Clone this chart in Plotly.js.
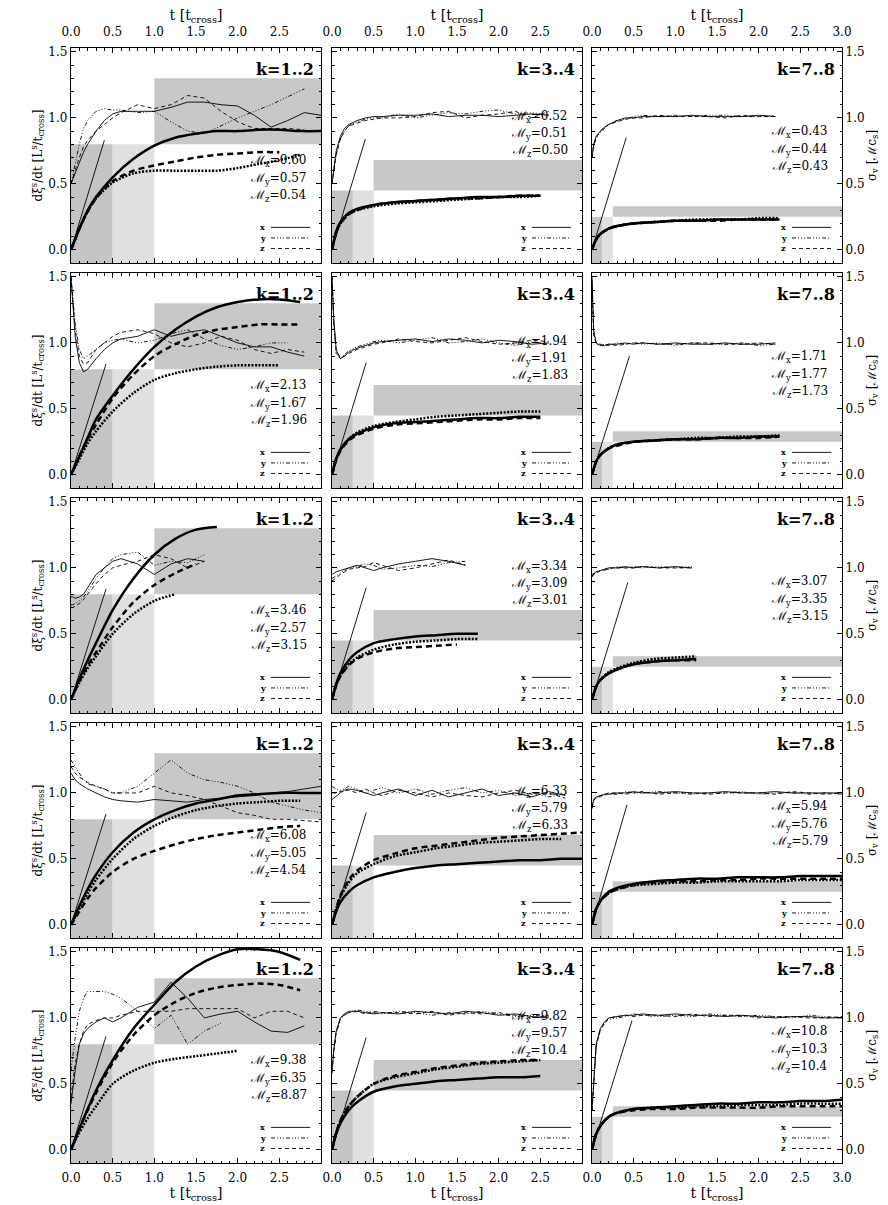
<!DOCTYPE html>
<html><head><meta charset="utf-8">
<script src="https://cdn.plot.ly/plotly-3.0.1.min.js"></script>
<style>body{margin:0;background:#fff}#g{width:888px;height:1205px}</style>
</head><body><div id="g"></div>
<script>
// time grids
const T1 = [0,0.02,0.05,0.1,0.15,0.2,0.3,0.4,0.5,0.6,0.8,1.0,1.2,1.4,1.6,1.8,2.0,2.2,2.4,2.6,2.8,3.0];
const T2 = [0,0.05,0.1,0.2,0.3,0.5,0.75,1.0,1.25,1.5,1.75,2.0,2.25,2.5,2.75,3.0];
const N = null;
// thin = sigma_v (x,y,z), thick = dxi/dt (x,y,z)
const vx11=[0.50,0.53,0.58,0.66,0.74,0.80,0.90,0.98,1.03,1.05,1.05,1.05,1.08,1.12,1.12,1.10,1.09,1.02,0.93,0.98,1.04,1.02];
const vy11=[0.50,0.56,0.66,0.80,0.92,0.98,1.05,1.07,1.06,1.06,1.04,1.05,0.97,0.90,0.88,0.94,1.00,1.05,1.10,1.16,1.22,N];
const vz11=[0.50,0.54,0.60,0.70,0.78,0.83,0.90,0.95,1.00,1.04,1.10,1.07,1.10,1.17,1.15,1.05,0.97,0.92,0.92,0.92,0.91,N];
const ex11=[0,0.08,0.16,0.30,0.40,0.55,0.69,0.79,0.85,0.88,0.90,0.90,0.91,0.91,0.90,0.90];
const ey11=[0,0.08,0.16,0.29,0.39,0.51,0.58,0.60,0.60,0.60,0.60,0.62,0.65,0.68,0.72,N];
const ez11=[0,0.08,0.16,0.29,0.39,0.52,0.60,0.64,0.67,0.70,0.72,0.73,0.74,0.74,N,N];
const vx12=[0.50,0.62,0.75,0.86,0.92,0.95,0.98,1.00,1.01,1.01,1.02,1.02,1.03,1.01,1.02,1.02,1.01,1.02,1.03,1.02,N,N];
const vy12=[0.50,0.60,0.72,0.84,0.90,0.94,0.97,0.99,1.00,1.00,1.03,1.00,1.02,1.04,1.03,1.05,1.06,1.03,1.04,1.02,N,N];
const vz12=[0.50,0.60,0.72,0.84,0.90,0.94,0.96,0.98,0.99,1.00,1.00,1.01,1.04,1.05,1.00,1.02,1.03,1.05,1.00,1.05,N,N];
const ex12=[0,0.14,0.21,0.28,0.31,0.34,0.36,0.37,0.38,0.39,0.40,0.40,0.41,0.41,N,N];
const ey12=[0,0.13,0.20,0.27,0.30,0.33,0.35,0.36,0.37,0.38,0.39,0.40,0.40,0.41,N,N];
const ez12=[0,0.13,0.20,0.27,0.30,0.34,0.36,0.37,0.38,0.39,0.39,0.40,0.41,0.41,N,N];
const vx13=[0.70,0.80,0.86,0.90,0.93,0.95,0.98,1.00,1.00,1.01,1.01,1.01,1.02,1.01,1.01,1.01,1.02,1.01,N,N,N,N];
const vy13=[0.70,0.79,0.85,0.89,0.92,0.95,0.98,0.99,1.01,1.02,1.01,1.02,1.01,1.02,1.02,1.01,1.01,1.02,N,N,N,N];
const vz13=[0.70,0.79,0.85,0.90,0.93,0.95,0.97,0.99,1.00,1.00,1.02,1.01,1.01,1.01,1.00,1.02,1.01,1.01,N,N,N,N];
const ex13=[0,0.08,0.12,0.16,0.18,0.20,0.21,0.22,0.22,0.23,0.23,0.23,0.23,N,N,N];
const ey13=[0,0.08,0.12,0.16,0.18,0.20,0.21,0.22,0.23,0.23,0.23,0.24,0.24,N,N,N];
const ez13=[0,0.08,0.12,0.16,0.18,0.20,0.21,0.22,0.22,0.22,0.23,0.23,0.23,N,N,N];
const vx21=[1.50,1.30,1.05,0.85,0.78,0.80,0.88,0.95,1.00,1.03,1.05,1.10,1.05,1.08,1.10,1.05,1.00,0.97,0.97,0.93,0.90,N];
const vy21=[1.50,1.35,1.15,0.95,0.88,0.90,0.95,1.00,1.02,1.03,1.00,1.02,1.07,1.10,1.03,0.98,0.95,0.97,1.00,1.00,N,N];
const vz21=[1.50,1.32,1.10,0.90,0.84,0.85,0.95,1.00,1.05,1.08,1.10,1.07,1.00,0.97,1.00,1.05,1.02,0.95,0.92,0.95,0.93,N];
const ex21=[0,0.07,0.14,0.28,0.42,0.60,0.80,0.97,1.10,1.20,1.27,1.31,1.33,1.33,1.31,N];
const ey21=[0,0.06,0.12,0.24,0.33,0.48,0.62,0.72,0.77,0.80,0.82,0.83,0.83,0.83,N,N];
const ez21=[0,0.07,0.14,0.27,0.38,0.58,0.76,0.90,0.99,1.06,1.10,1.12,1.14,1.14,1.14,N];
const vx22=[1.50,1.20,0.95,0.88,0.90,0.93,0.96,0.98,1.00,1.01,1.02,1.03,1.01,1.03,1.02,1.00,1.02,1.01,0.99,1.00,N,N];
const vy22=[1.50,1.15,0.92,0.88,0.91,0.94,0.97,0.99,1.01,1.02,1.00,1.02,1.04,1.00,1.01,1.03,1.00,0.98,1.01,0.99,N,N];
const vz22=[1.50,1.18,0.94,0.89,0.90,0.92,0.95,0.97,0.99,1.00,1.03,1.01,1.00,1.02,1.04,1.01,0.99,1.00,1.02,1.01,N,N];
const ex22=[0,0.12,0.19,0.27,0.31,0.36,0.39,0.40,0.41,0.42,0.43,0.43,0.44,0.44,N,N];
const ey22=[0,0.12,0.19,0.27,0.32,0.37,0.40,0.42,0.44,0.45,0.46,0.47,0.48,0.48,N,N];
const ez22=[0,0.11,0.18,0.26,0.30,0.35,0.38,0.39,0.40,0.41,0.42,0.42,0.43,0.43,N,N];
const vx23=[1.50,1.10,1.00,0.98,0.98,0.99,0.99,1.00,0.99,1.00,0.99,1.00,0.99,0.99,1.00,0.99,0.99,1.00,N,N,N,N];
const vy23=[1.48,1.08,0.99,0.98,0.99,0.98,1.00,0.99,1.00,0.99,1.00,0.98,1.00,0.99,0.99,1.00,0.98,0.99,N,N,N,N];
const vz23=[1.45,1.06,1.00,0.99,0.98,0.99,0.98,0.99,1.00,1.00,0.99,0.99,1.00,1.00,0.99,0.99,1.00,0.99,N,N,N,N];
const ex23=[0,0.10,0.15,0.20,0.23,0.25,0.26,0.27,0.27,0.28,0.28,0.29,0.29,N,N,N];
const ey23=[0,0.10,0.15,0.20,0.23,0.25,0.26,0.27,0.28,0.28,0.29,0.29,0.30,N,N,N];
const ez23=[0,0.10,0.15,0.20,0.22,0.25,0.26,0.27,0.27,0.28,0.28,0.28,0.29,N,N,N];
const vx31=[0.78,0.78,0.77,0.78,0.80,0.85,0.95,1.00,1.05,1.07,1.03,0.95,1.03,1.07,1.05,N,N,N,N,N,N,N];
const vy31=[0.72,0.72,0.73,0.75,0.78,0.82,0.92,1.00,1.07,1.10,1.12,1.02,1.05,1.04,1.10,N,N,N,N,N,N,N];
const vz31=[0.70,0.70,0.71,0.73,0.76,0.80,0.88,0.95,1.00,1.02,1.05,1.10,1.07,1.00,1.05,N,N,N,N,N,N,N];
const ex31=[0,0.08,0.16,0.30,0.43,0.68,0.92,1.10,1.22,1.29,1.31,N,N,N,N,N];
const ey31=[0,0.07,0.13,0.24,0.33,0.50,0.65,0.75,0.80,N,N,N,N,N,N,N];
const ez31=[0,0.07,0.14,0.26,0.36,0.55,0.74,0.87,0.96,1.03,N,N,N,N,N,N];
const vx32=[0.95,0.96,0.97,0.98,0.99,1.00,1.02,1.00,0.98,1.00,1.03,1.05,1.07,1.05,1.02,N,N,N,N,N,N,N];
const vy32=[0.92,0.93,0.94,0.96,0.98,1.00,1.01,1.03,1.02,0.99,1.00,1.02,1.01,1.04,1.05,N,N,N,N,N,N,N];
const vz32=[0.90,0.91,0.93,0.95,0.97,0.99,1.00,1.01,1.04,1.02,0.98,1.00,1.03,1.06,1.02,N,N,N,N,N,N,N];
const ex32=[0,0.12,0.20,0.30,0.36,0.43,0.46,0.48,0.49,0.50,0.50,N,N,N,N,N];
const ey32=[0,0.11,0.18,0.27,0.32,0.38,0.42,0.44,0.45,0.46,0.46,N,N,N,N,N];
const ez32=[0,0.11,0.18,0.26,0.31,0.36,0.39,0.40,0.41,0.42,N,N,N,N,N,N];
const vx33=[0.95,0.96,0.97,0.98,0.99,1.00,1.00,1.01,1.00,1.01,1.00,1.01,1.00,N,N,N,N,N,N,N,N,N];
const vy33=[0.94,0.95,0.97,0.98,0.99,0.99,1.01,1.00,1.01,1.00,1.01,1.00,1.01,N,N,N,N,N,N,N,N,N];
const vz33=[0.93,0.95,0.96,0.98,0.98,1.00,1.00,1.00,1.00,1.01,1.00,1.00,1.00,N,N,N,N,N,N,N,N,N];
const ex33=[0,0.10,0.15,0.20,0.23,0.27,0.29,0.30,0.31,N,N,N,N,N,N,N];
const ey33=[0,0.10,0.15,0.21,0.24,0.28,0.31,0.32,0.33,N,N,N,N,N,N,N];
const ez33=[0,0.10,0.15,0.20,0.23,0.27,0.29,0.30,0.30,N,N,N,N,N,N,N];
const vx41=[1.15,1.13,1.10,1.07,1.05,1.03,1.00,0.97,0.95,0.94,0.93,0.95,0.94,0.93,0.95,0.96,0.97,0.98,1.00,1.01,1.03,1.05];
const vy41=[1.25,1.23,1.20,1.15,1.10,1.07,1.05,1.03,1.00,1.00,1.05,1.15,1.25,1.15,1.10,1.08,1.05,1.00,0.93,0.90,0.87,0.85];
const vz41=[1.20,1.18,1.15,1.12,1.10,1.08,1.05,1.03,1.00,1.00,1.00,1.05,1.00,0.98,0.95,0.90,0.85,0.83,0.80,0.80,0.79,0.78];
const ex41=[0,0.07,0.14,0.27,0.38,0.55,0.70,0.80,0.87,0.92,0.95,0.98,0.99,1.00,1.00,1.00];
const ey41=[0,0.06,0.12,0.24,0.34,0.50,0.65,0.75,0.82,0.87,0.90,0.92,0.93,0.94,0.94,N];
const ez41=[0,0.05,0.10,0.20,0.28,0.40,0.50,0.56,0.61,0.65,0.68,0.70,0.72,0.74,0.75,N];
const vx42=[0.95,0.96,0.98,1.00,1.02,1.03,1.02,1.00,0.98,1.00,1.03,0.98,1.02,0.97,1.00,1.03,0.98,1.00,0.97,1.01,0.98,N];
const vy42=[1.05,1.04,1.03,1.02,1.03,1.05,1.03,1.00,1.02,1.04,1.00,1.03,0.99,1.02,1.04,1.00,1.02,0.98,1.00,0.97,0.99,N];
const vz42=[1.00,1.00,1.00,1.01,1.02,1.02,1.00,1.03,1.00,0.98,1.02,1.00,0.97,1.00,0.98,0.97,1.00,1.02,0.99,1.00,0.96,N];
const ex42=[0,0.10,0.17,0.25,0.30,0.36,0.40,0.43,0.45,0.46,0.47,0.48,0.49,0.49,0.50,0.50];
const ey42=[0,0.12,0.21,0.32,0.39,0.46,0.52,0.55,0.58,0.60,0.62,0.63,0.64,0.65,0.65,N];
const ez42=[0,0.12,0.22,0.34,0.41,0.49,0.54,0.58,0.60,0.62,0.64,0.66,0.67,0.68,0.69,0.70];
const vx43=[0.90,0.95,0.97,0.98,0.99,0.99,1.00,1.00,1.01,1.00,1.00,1.01,1.00,1.00,1.01,1.00,1.00,1.01,1.00,1.00,1.00,1.00];
const vy43=[0.88,0.94,0.96,0.98,0.98,0.99,0.99,1.01,1.00,1.00,1.01,1.00,0.99,1.00,1.00,1.01,0.99,1.00,1.00,0.99,1.00,0.99];
const vz43=[0.89,0.94,0.97,0.97,0.99,1.00,1.00,0.99,1.00,1.01,0.99,1.00,1.00,0.99,1.00,1.00,1.00,0.99,1.01,1.00,0.99,1.00];
const ex43=[0,0.12,0.18,0.25,0.28,0.31,0.33,0.34,0.35,0.35,0.36,0.36,0.36,0.37,0.37,0.37];
const ey43=[0,0.12,0.18,0.24,0.27,0.30,0.31,0.32,0.32,0.33,0.33,0.33,0.33,0.34,0.34,0.34];
const ez43=[0,0.12,0.18,0.24,0.27,0.30,0.32,0.33,0.33,0.34,0.34,0.35,0.35,0.35,0.35,0.35];
const vx51=[0.35,0.45,0.60,0.80,0.88,0.92,0.97,1.00,0.97,1.00,1.08,1.12,1.27,1.15,1.00,1.03,1.05,0.97,0.90,0.89,0.94,N];
const vy51=[0.60,0.70,0.85,1.05,1.15,1.20,1.20,1.20,1.18,1.15,1.05,0.92,1.02,0.80,0.90,0.96,N,N,N,N,N,N];
const vz51=[0.40,0.50,0.65,0.80,0.90,0.95,0.98,1.00,1.00,1.02,1.05,1.05,1.05,1.07,1.07,1.07,1.07,1.00,1.05,1.05,1.00,N];
const ex51=[0,0.08,0.16,0.31,0.45,0.68,0.92,1.10,1.27,1.39,1.47,1.52,1.52,1.50,1.44,N];
const ey51=[0,0.07,0.13,0.24,0.33,0.50,0.60,0.66,0.69,0.71,0.73,0.75,N,N,N,N];
const ez51=[0,0.08,0.16,0.30,0.43,0.66,0.87,1.02,1.12,1.19,1.23,1.25,1.26,1.25,1.21,N];
const vx52=[0.60,0.75,0.90,1.00,1.03,1.05,1.05,1.04,1.03,1.04,1.03,1.05,1.04,1.03,1.05,1.04,1.02,1.03,1.01,1.00,N,N];
const vy52=[0.58,0.73,0.88,0.99,1.02,1.04,1.06,1.05,1.04,1.03,1.05,1.04,1.02,1.04,1.03,1.05,1.03,1.01,1.02,1.01,N,N];
const vz52=[0.59,0.74,0.89,0.99,1.03,1.04,1.05,1.03,1.05,1.04,1.04,1.03,1.05,1.02,1.04,1.03,1.04,1.02,1.00,1.02,N,N];
const ex52=[0,0.12,0.20,0.30,0.36,0.44,0.48,0.50,0.52,0.53,0.54,0.55,0.55,0.56,N,N];
const ey52=[0,0.13,0.22,0.33,0.40,0.50,0.55,0.58,0.61,0.63,0.65,0.66,0.67,0.68,N,N];
const ez52=[0,0.13,0.22,0.33,0.40,0.50,0.56,0.59,0.62,0.64,0.66,0.67,0.68,0.68,N,N];
const vx53=[0.30,0.50,0.80,0.92,0.97,1.00,1.01,1.02,1.02,1.03,1.02,1.03,1.02,1.02,1.01,1.02,1.01,1.00,1.01,1.01,1.00,1.00];
const vy53=[0.30,0.48,0.78,0.91,0.96,0.99,1.00,1.01,1.03,1.02,1.01,1.02,1.01,1.03,1.02,1.01,1.02,1.01,1.00,1.02,1.01,1.00];
const vz53=[0.30,0.49,0.79,0.91,0.96,1.00,1.01,1.02,1.01,1.02,1.02,1.01,1.03,1.01,1.02,1.02,1.00,1.01,1.01,1.00,1.00,1.01];
const ex53=[0,0.12,0.18,0.25,0.28,0.31,0.32,0.33,0.34,0.35,0.35,0.36,0.36,0.37,0.37,0.38];
const ey53=[0,0.12,0.18,0.25,0.28,0.31,0.32,0.32,0.33,0.33,0.34,0.34,0.34,0.35,0.35,0.35];
const ez53=[0,0.12,0.18,0.25,0.28,0.30,0.31,0.31,0.32,0.32,0.32,0.32,0.33,0.33,0.33,0.33];

// Mach numbers (x, y, z) per panel
const mach = [
  [["0.60","0.57","0.54"],["0.52","0.51","0.50"],["0.43","0.44","0.43"]],
  [["2.13","1.67","1.96"],["1.94","1.91","1.83"],["1.71","1.77","1.73"]],
  [["3.46","2.57","3.15"],["3.34","3.09","3.01"],["3.07","3.35","3.15"]],
  [["6.08","5.05","4.54"],["6.33","5.79","6.33"],["5.94","5.76","5.79"]],
  [["9.38","6.35","8.87"],["9.82","9.57","10.4"],["10.8","10.3","10.4"]]
];
const kLabels = ["k=1..2","k=3..4","k=7..8"];
const boxDark  = [[0,0.5,-0.1,0.8],[0,0.25,-0.1,0.45],[0,0.125,-0.1,0.25]];
const boxLight = [[0.5,1.0,-0.1,0.8],[0.25,0.5,-0.1,0.45],[0.125,0.25,-0.1,0.25]];
const boxTarget= [[1.0,3.0,0.8,1.3],[0.5,3.0,0.45,0.68],[0.25,3.0,0.25,0.33]];
const tanEnd = [
  [[0.40,0.83],[0.40,0.84],[0.41,0.85]],
  [[0.42,0.84],[0.41,0.85],[0.45,0.90]],
  [[0.42,0.84],[0.41,0.85],[0.43,0.89]],
  [[0.42,0.84],[0.41,0.85],[0.42,0.91]],
  [[0.42,0.86],[0.41,0.85],[0.48,0.98]]
];
const machY = [[0.67,0.54,0.41],[1.01,0.88,0.75],[0.89,0.76,0.63]];
const legY = [0.17,0.09,0.01];

const V = [[vx11,vy11,vz11,ex11,ey11,ez11],[vx12,vy12,vz12,ex12,ey12,ez12],[vx13,vy13,vz13,ex13,ey13,ez13],
           [vx21,vy21,vz21,ex21,ey21,ez21],[vx22,vy22,vz22,ex22,ey22,ez22],[vx23,vy23,vz23,ex23,ey23,ez23],
           [vx31,vy31,vz31,ex31,ey31,ez31],[vx32,vy32,vz32,ex32,ey32,ez32],[vx33,vy33,vz33,ex33,ey33,ez33],
           [vx41,vy41,vz41,ex41,ey41,ez41],[vx42,vy42,vz42,ex42,ey42,ez42],[vx43,vy43,vz43,ex43,ey43,ez43],
           [vx51,vy51,vz51,ex51,ey51,ez51],[vx52,vy52,vz52,ex52,ey52,ez52],[vx53,vy53,vz53,ex53,ey53,ez53]];

const FONT = "DejaVu Serif";
const W=888,H=1205,ML=71,MR=46,MT=48,MB=42;
const PW=W-ML-MR, PH=H-MT-MB;
const colL=[0,261,521], colW=250;
const rowT=[0,225,450,675,900], rowH=215;
const traces=[], shapes=[], annotations=[];
const layout = {width:W,height:H,margin:{l:ML,r:MR,t:MT,b:MB},showlegend:false,
  paper_bgcolor:"#fff",plot_bgcolor:"rgba(0,0,0,0)",font:{family:FONT,size:12,color:"#000"}};
const thinDash=["solid","4px,2px,1px,2px,1px,2px,1px,2px","4px,3px"], thickDash=["solid","2px,1.5px","6px,4px"];
const labs=["x","y","z"];
for(let r=0;r<5;r++){for(let c=0;c<3;c++){
  const i=r*3+c+1, xa="x"+(i===1?"":i), ya="y"+(i===1?"":i);
  const d=V[i-1];
  for(let k=0;k<3;k++){
    traces.push({x:T1,y:d[k],xaxis:xa,yaxis:ya,mode:"lines",line:{color:"#000",width:0.9,dash:thinDash[k],shape:"linear"},hoverinfo:"skip"});
    traces.push({x:T2,y:d[3+k],xaxis:xa,yaxis:ya,mode:"lines",line:{color:"#000",width:2.5,dash:thickDash[k],shape:"spline",smoothing:0.8},hoverinfo:"skip"});
  }
  const te=tanEnd[r][c];
  traces.push({x:[0,te[0]],y:[0,te[1]],xaxis:xa,yaxis:ya,mode:"lines",line:{color:"#000",width:0.9},hoverinfo:"skip"});
  const xtv = c===2?[0,0.5,1,1.5,2,2.5,3]:[0,0.5,1,1.5,2,2.5];
  const xk={domain:[colL[c]/PW,(colL[c]+colW)/PW],range:[0,3],anchor:ya,tickvals:xtv,ticktext:xtv.map(v=>v.toFixed(1)),
    showticklabels:(r===0||r===4),side:r===0?"top":"bottom",ticks:"inside",ticklen:5,tickwidth:1,tickcolor:"#000",
    ticklabelstandoff:r===0?6:3,
    mirror:"allticks",showline:true,linecolor:"#000",linewidth:1.2,showgrid:false,zeroline:false,
    minor:{dtick:0.1,tick0:0,ticks:"inside",ticklen:2.5,tickcolor:"#000",showgrid:false},
    tickfont:{family:FONT,size:12}};
  if(r===0||r===4) xk.title={text:"t [t<sub>cross</sub>]",font:{family:FONT,size:14},standoff:1};
  const yk={domain:[1-(rowT[r]+rowH)/PH,1-rowT[r]/PH],range:[-0.1,1.53],anchor:xa,tickvals:[0,0.5,1,1.5],ticktext:["0.0","0.5","1.0","1.5"],
    showticklabels:c!==1,side:c===2?"right":"left",ticks:"inside",ticklen:5,tickwidth:1,tickcolor:"#000",
    mirror:"allticks",showline:true,linecolor:"#000",linewidth:1.2,showgrid:false,zeroline:false,
    minor:{dtick:0.1,tick0:0,ticks:"inside",ticklen:2.5,tickcolor:"#000",showgrid:false},
    tickfont:{family:FONT,size:12}};
  if(c===0) yk.title={text:"dξ<sup>s</sup>/dt [L<sup>s</sup>/t<sub>cross</sub>]",font:{family:FONT,size:12},standoff:3};
  if(c===2) yk.title={text:"σ<sub>v</sub> [ℳc<sub>s</sub>]",font:{family:FONT,size:12},standoff:3};
  layout["xaxis"+(i===1?"":i)]=xk; layout["yaxis"+(i===1?"":i)]=yk;
  const bx=[[boxDark[c],"#c4c4c4"],[boxLight[c],"#e0e0e0"],[boxTarget[c],"#c8c8c8"]];
  bx.forEach(([b,col])=>shapes.push({type:"rect",xref:xa,yref:ya,x0:b[0],x1:b[1],y0:b[2],y1:b[3],fillcolor:col,line:{width:0},layer:"below"}));
  for(let k=0;k<3;k++){
    shapes.push({type:"line",xref:xa,yref:ya,x0:2.4,x1:2.87,y0:legY[k],y1:legY[k],line:{color:"#000",width:0.9,dash:thinDash[k]}});
    annotations.push({xref:xa,yref:ya,x:2.3,y:legY[k],text:"<b>"+labs[k]+"</b>",showarrow:false,xanchor:"center",yanchor:"middle",font:{family:FONT,size:8}});
    annotations.push({xref:xa,yref:ya,x:2.86,y:machY[c][k],text:"ℳ<sub>"+labs[k]+"</sub>="+mach[r][c][k],showarrow:false,xanchor:"right",yanchor:"middle",font:{family:FONT,size:12}});
  }
  annotations.push({xref:xa,yref:ya,x:2.94,y:1.37,text:"<b>"+kLabels[c]+"</b>",showarrow:false,xanchor:"right",yanchor:"middle",font:{family:FONT,size:16}});
}}
layout.shapes=shapes; layout.annotations=annotations;
Plotly.newPlot("g",traces,layout,{staticPlot:true});
</script></body></html>
